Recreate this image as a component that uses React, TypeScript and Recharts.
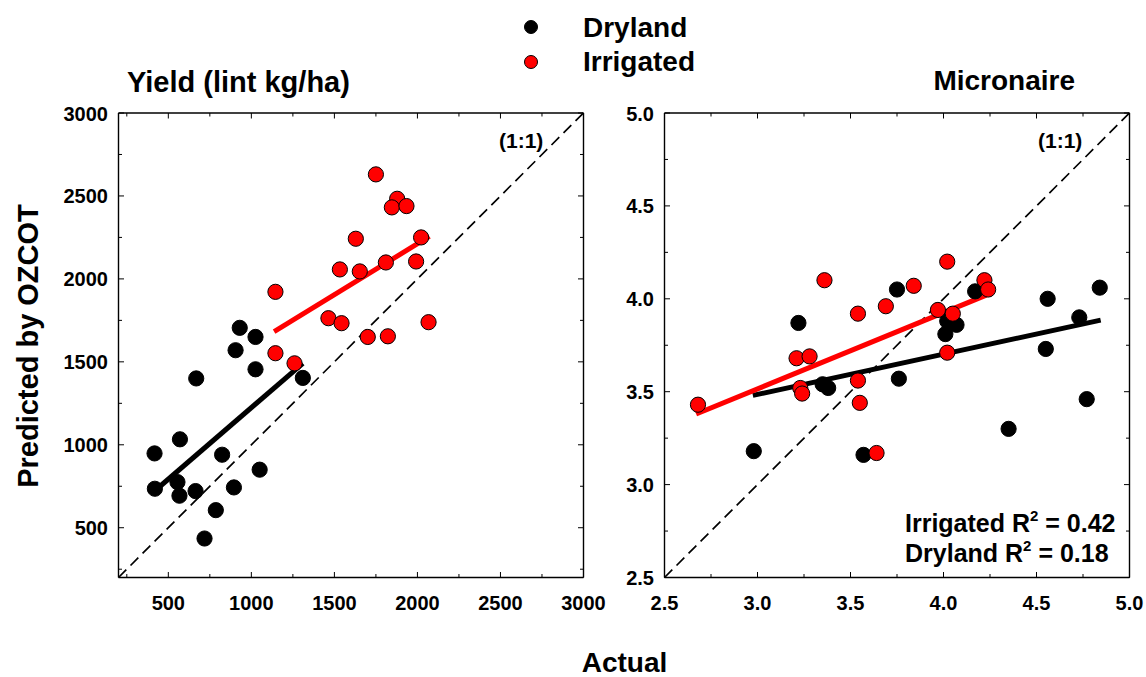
import React from 'react';
import { ScatterChart, Scatter, XAxis, YAxis, ReferenceLine } from 'recharts';

const FONT = '"Liberation Sans", Arial, Helvetica, sans-serif';

// ---------- Yield (lint kg/ha) ----------
const yieldDryActual = [930, 1025, 905, 1025, 668, 1310, 570, 417, 824, 1050, 555, 419, 567, 664, 895, 786, 718];
const yieldDryPred = [1705, 1650, 1570, 1455, 1400, 1403, 1033, 948, 940, 850, 775, 735, 693, 721, 743, 606, 435];
const yieldIrrActual = [1750, 1878, 1846, 1934, 1629, 2022, 1810, 1992, 1533, 1653, 1145, 1464, 1543, 2067, 1701, 1822, 1145, 1260];
const yieldIrrPred = [2630, 2483, 2431, 2439, 2242, 2250, 2099, 2105, 2057, 2045, 1922, 1763, 1733, 1739, 1650, 1654, 1552, 1491];
const yieldDryFitX = [447, 1310];
const yieldDryFitY = [747, 1491];
const yieldIrrFitX = [1137, 2072];
const yieldIrrFitY = [1682, 2256];
const yieldDomain = [200, 3000];
const yieldTicks = [250, 500, 750, 1000, 1250, 1500, 1750, 2000, 2250, 2500, 2750, 3000];

// ---------- Micronaire ----------
const micDryActual = [3.75, 4.17, 4.56, 4.84, 4.73, 3.22, 4.02, 4.07, 4.01, 4.55, 3.76, 3.35, 3.38, 4.77, 4.35, 2.98, 3.57];
const micDryPred = [4.05, 4.04, 4.0, 4.06, 3.9, 3.87, 3.88, 3.86, 3.81, 3.73, 3.57, 3.54, 3.52, 3.46, 3.3, 3.18, 3.16];
const micIrrActual = [4.02, 3.36, 4.22, 4.24, 3.84, 3.69, 3.54, 3.97, 4.05, 4.02, 3.21, 3.28, 3.54, 3.23, 3.24, 3.55, 2.68, 3.64];
const micIrrPred = [4.2, 4.1, 4.1, 4.05, 4.07, 3.96, 3.92, 3.94, 3.92, 3.71, 3.68, 3.69, 3.56, 3.52, 3.49, 3.44, 3.43, 3.17];
const micDryFitX = [2.975, 4.845];
const micDryFitY = [3.48, 3.885];
const micIrrFitX = [2.67, 4.23];
const micIrrFitY = [3.38, 4.02];
const micDomain = [2.5, 5.0];
const micTicks = [2.5, 2.75, 3.0, 3.25, 3.5, 3.75, 4.0, 4.25, 4.5, 4.75, 5.0];

const toPts = (xs: number[], ys: number[]) => xs.map((x, i) => ({ x, y: ys[i] }));

const MAJ = 5.5;
const MIN = 3.5;

const NoShape = () => <g />;
const makeDot = (color: string) => (p: any) =>
  <circle cx={p.cx} cy={p.cy} r={7.6} fill={color} stroke="#000" strokeWidth={1} />;
const DryDot = makeDot('#000');
const IrrDot = makeDot('#ff0000');

type TickOpts = { side: 'b' | 't' | 'l' | 'r'; isMajor: (v: number) => boolean; fmt: (v: number) => string; label: boolean };

const makeTick = (o: TickOpts) => (p: any) => {
  const { x, y, payload } = p;
  const v = payload.value;
  const maj = o.isMajor(v);
  const len = maj ? MAJ : MIN;
  let line;
  let text = null;
  if (o.side === 'b') {
    line = <line x1={x} x2={x} y1={y} y2={y - len} stroke="#000" strokeWidth={1} />;
    if (o.label && maj)
      text = (
        <text x={x} y={y + 32.5} textAnchor="middle" fontFamily={FONT} fontWeight="bold" fontSize={20} fill="#000">
          {o.fmt(v)}
        </text>
      );
  } else if (o.side === 't') {
    line = <line x1={x} x2={x} y1={y} y2={y + len} stroke="#000" strokeWidth={1} />;
  } else if (o.side === 'l') {
    line = <line x1={x} x2={x + len} y1={y} y2={y} stroke="#000" strokeWidth={1} />;
    if (o.label && maj)
      text = (
        <text x={x - 10.5} y={y + 7.5} textAnchor="end" fontFamily={FONT} fontWeight="bold" fontSize={20} fill="#000">
          {o.fmt(v)}
        </text>
      );
  } else {
    line = <line x1={x} x2={x - len} y1={y} y2={y} stroke="#000" strokeWidth={1} />;
  }
  return (
    <g>
      {line}
      {text}
    </g>
  );
};

type PanelProps = {
  width: number;
  height: number;
  plot: { left: number; top: number; right: number; bottom: number };
  domain: number[];
  ticks: number[];
  isMajor: (v: number) => boolean;
  fmt: (v: number) => string;
  dry: { x: number; y: number }[];
  irr: { x: number; y: number }[];
  dryFit: { x: number; y: number }[];
  irrFit: { x: number; y: number }[];
};

function Panel(props: PanelProps) {
  const { width, height, plot, domain, ticks, isMajor, fmt, dry, irr, dryFit, irrFit } = props;
  // each of the four axes takes 1px of room
  const margin = {
    top: plot.top - 1,
    left: plot.left - 1,
    right: width - plot.right - 1,
    bottom: height - plot.bottom - 1,
  };
  const axisLine = { stroke: '#000', strokeWidth: 1.4 };
  const common = {
    type: 'number' as const,
    domain: domain as [number, number],
    ticks,
    interval: 0 as const,
    tickSize: 0,
    tickMargin: 0,
    tickLine: false,
    axisLine,
    allowDataOverflow: true,
  };
  return (
    <ScatterChart width={width} height={height} margin={margin}>
      <XAxis xAxisId="b" dataKey="x" orientation="bottom" height={1} {...common} tick={makeTick({ side: 'b', isMajor, fmt, label: true })} />
      <XAxis xAxisId="t" dataKey="x" orientation="top" height={1} {...common} tick={makeTick({ side: 't', isMajor, fmt, label: false })} />
      <YAxis yAxisId="l" dataKey="y" orientation="left" width={1} {...common} tick={makeTick({ side: 'l', isMajor, fmt, label: true })} />
      <YAxis yAxisId="r" dataKey="y" orientation="right" width={1} {...common} tick={makeTick({ side: 'r', isMajor, fmt, label: false })} />
      <ReferenceLine
        xAxisId="b"
        yAxisId="l"
        segment={[
          { x: domain[0], y: domain[0] },
          { x: domain[1], y: domain[1] },
        ]}
        stroke="#000"
        strokeWidth={1.7}
        strokeDasharray="11 6"
      />
      <Scatter xAxisId="b" yAxisId="l" data={dryFit} line={{ stroke: '#000', strokeWidth: 5 }} shape={NoShape} isAnimationActive={false} />
      <Scatter xAxisId="b" yAxisId="l" data={irrFit} line={{ stroke: '#ff0000', strokeWidth: 5 }} shape={NoShape} isAnimationActive={false} />
      <Scatter xAxisId="b" yAxisId="l" data={dry} shape={DryDot} isAnimationActive={false} />
      <Scatter xAxisId="b" yAxisId="l" data={irr} shape={IrrDot} isAnimationActive={false} />
    </ScatterChart>
  );
}

export default function App() {
  const txt = { fontFamily: FONT, fontWeight: 'bold' as const, fill: '#000' };
  return (
    <div style={{ position: 'fixed', left: 0, top: 0, width: 1146, height: 677, background: '#fff', overflow: 'hidden' }}>
      <div style={{ position: 'absolute', left: 0, top: 0 }}>
        <Panel
          width={612}
          height={677}
          plot={{ left: 118.5, top: 113, right: 583.5, bottom: 577.5 }}
          domain={yieldDomain}
          ticks={yieldTicks}
          isMajor={(v) => v % 500 === 0}
          fmt={(v) => String(v)}
          dry={toPts(yieldDryActual, yieldDryPred)}
          irr={toPts(yieldIrrActual, yieldIrrPred)}
          dryFit={toPts(yieldDryFitX, yieldDryFitY)}
          irrFit={toPts(yieldIrrFitX, yieldIrrFitY)}
        />
      </div>
      <div style={{ position: 'absolute', left: 612, top: 0 }}>
        <Panel
          width={534}
          height={677}
          plot={{ left: 664.5 - 612, top: 113, right: 1129.5 - 612, bottom: 577.5 }}
          domain={micDomain}
          ticks={micTicks}
          isMajor={(v) => Math.round(v * 100) % 50 === 0}
          fmt={(v) => v.toFixed(1)}
          dry={toPts(micDryActual, micDryPred)}
          irr={toPts(micIrrActual, micIrrPred)}
          dryFit={toPts(micDryFitX, micDryFitY)}
          irrFit={toPts(micIrrFitX, micIrrFitY)}
        />
      </div>
      <svg width={1146} height={677} style={{ position: 'absolute', left: 0, top: 0, pointerEvents: 'none' }}>
        {/* Legend */}
        <circle cx={531} cy={27} r={6.5} fill="#000" stroke="#000" strokeWidth={1} />
        <text x={583} y={37} fontSize={28} {...txt}>Dryland</text>
        <circle cx={531} cy={62} r={6.5} fill="#ff0000" stroke="#000" strokeWidth={1} />
        <text x={583} y={71} fontSize={28} {...txt}>Irrigated</text>
        {/* Panel titles */}
        <text x={127} y={92} fontSize={29} {...txt}>Yield (lint kg/ha)</text>
        <text x={1075} y={90} fontSize={28} textAnchor="end" {...txt}>Micronaire</text>
        {/* 1:1 labels */}
        <text x={499} y={148} fontSize={21} {...txt}>(1:1)</text>
        <text x={1038} y={148} fontSize={21} {...txt}>(1:1)</text>
        {/* R2 */}
        <text x={905} y={532} fontSize={25} {...txt}>
          Irrigated R<tspan fontSize={15} dy={-11}>2</tspan>
          <tspan dy={11}> = 0.42</tspan>
        </text>
        <text x={905} y={562} fontSize={25} {...txt}>
          Dryland R<tspan fontSize={15} dy={-11}>2</tspan>
          <tspan dy={11}> = 0.18</tspan>
        </text>
        {/* Axis titles */}
        <text x={624.5} y={672} fontSize={28} textAnchor="middle" {...txt}>Actual</text>
        <text x={0} y={0} fontSize={29} textAnchor="middle" transform="translate(38,346) rotate(-90)" {...txt}>
          Predicted by OZCOT
        </text>
      </svg>
    </div>
  );
}
